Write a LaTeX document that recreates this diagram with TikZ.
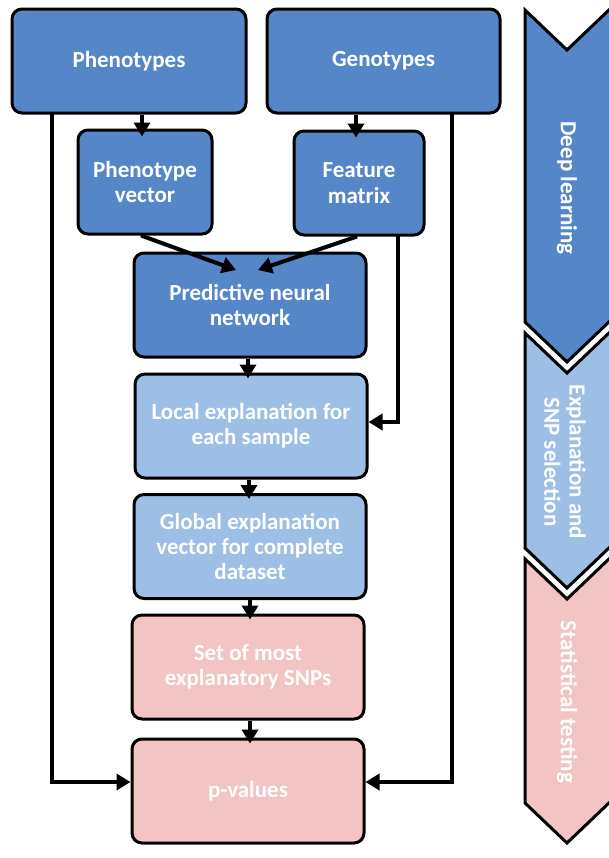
\documentclass[tikz,border=0pt]{standalone}
\usepackage{fontspec}
\setmainfont{Carlito}
\usetikzlibrary{arrows.meta,calc}
\definecolor{dkblue}{HTML}{5586C8}
\definecolor{ltblue}{HTML}{9DBEE5}
\definecolor{pinkc}{HTML}{F2C4C4}
\begin{document}
\begin{tikzpicture}[x=0.5pt,y=-0.5pt,
  box/.style={draw=black, line width=1.5pt, rounded corners=5pt, text=white,
    font=\bfseries\fontsize{11.5}{12.7}\selectfont, align=center,
    minimum height=52pt, inner sep=0pt},
  wide/.style={box, minimum width=116pt},
  chev/.style={draw=black, line width=1.5pt, line join=miter},
  chevtext/.style={text=white, font=\bfseries\fontsize{11.5}{12.7}\selectfont, align=center, rotate=-90},
  arr/.style={line width=2pt, -{Triangle[width=8pt,length=7pt]}}]
\useasboundingbox (0,0) rectangle (609,858);
% chevrons
\draw[chev, fill=dkblue] (525,10) -- (567,50) -- (611,8) -- (611,320) -- (567,362) -- (525,322) -- cycle;
\draw[chev, fill=ltblue] (525,333) -- (567,373) -- (611,331) -- (611,546) -- (567,588) -- (525,548) -- cycle;
\draw[chev, fill=pinkc] (525,559) -- (567,599) -- (611,557) -- (611,801) -- (567,843) -- (525,803) -- cycle;
\node[chevtext] (cl1) at (567,188) {Deep learning};
\node[chevtext] (cl2) at (565,462) {Explanation and\\SNP selection};
\node[chevtext] (cl3) at (567,702) {Statistical testing};
% boxes
\node[box, fill=dkblue, minimum width=117pt] (pheno) at (129,61) {Phenotypes};
\node[box, fill=dkblue, minimum width=116.5pt] (geno) at (383.5,61) {Genotypes};
\node[box, fill=dkblue, minimum width=67pt] (pvec) at (145,182) {Phenotype\\vector};
\node[box, fill=dkblue, minimum width=65pt] (fm) at (359,183) {Feature\\matrix};
\node[wide, fill=dkblue] (pnn) at (250,305) {Predictive neural\\network};
\node[wide, fill=ltblue] (local) at (251,426) {Local explanation for\\each sample};
\node[wide, fill=ltblue] (global) at (250,546.5) {Global explanation\\vector for complete\\dataset};
\node[wide, fill=pinkc] (set) at (248,667) {Set of most\\explanatory SNPs};
\node[wide, fill=pinkc] (pval) at (248,791) {p-values};
% helper coordinates
\coordinate (lx) at (52,113);
\coordinate (rx) at (452,113);
\coordinate (fx) at (398,235);
\coordinate (pin1) at (236,270);
\coordinate (pin2) at (258,270);
% connectors
\draw[arr] (pheno.south -| 142,0) -- ($(pvec.north -| 142,0)+(0,8)$);
\draw[arr] (geno.south -| 356,0) -- ($(fm.north -| 356,0)+(0,8)$);
\draw[arr] ($(pvec.south)+(-4,0)$) -- (pin1);
\draw[arr] ($(fm.south)+(-2,0)$) -- (pin2);
\draw[arr] (fx) |- ($(local.east)+(0,-4)$);
\draw[arr] (lx) |- ($(pval.west)+(0,-9)$);
\draw[arr] (rx) |- ($(pval.east)+(0,-9)$);
\draw[arr] (pnn.south -| 248,0) -- ($(local.north -| 248,0)+(0,6)$);
\draw[arr] (local.south -| 249,0) -- ($(global.north -| 249,0)+(0,6)$);
\draw[arr] (global.south -| 250,0) -- ($(set.north -| 250,0)+(0,6)$);
\draw[arr] (set.south -| 250,0) -- ($(pval.north -| 250,0)+(0,6)$);
\end{tikzpicture}
\end{document}
